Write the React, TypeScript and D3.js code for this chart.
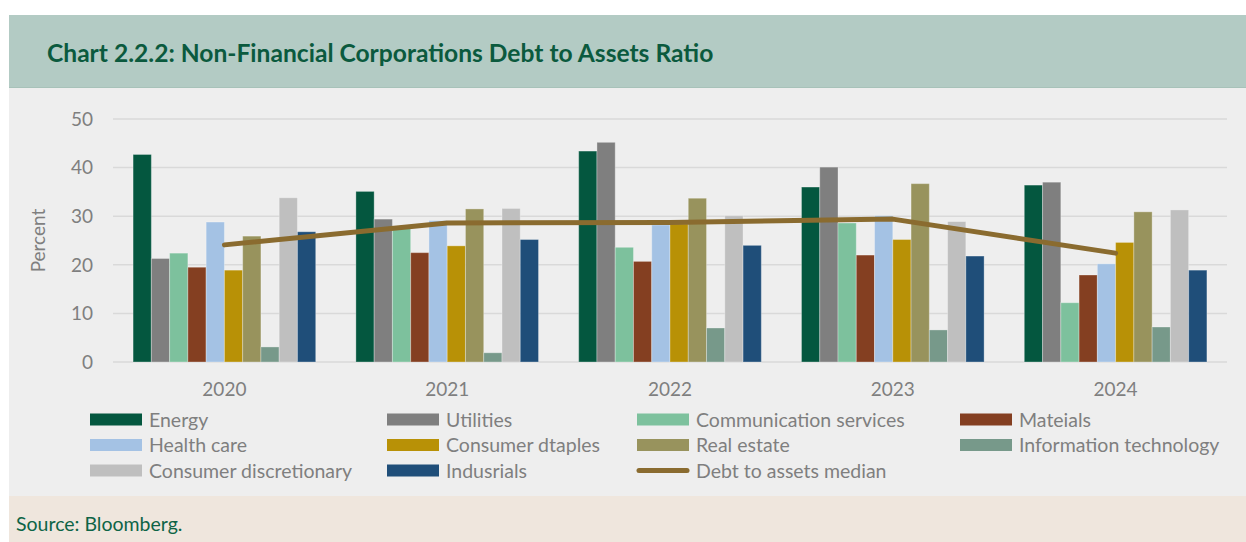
import React, { Component } from 'react';
import * as d3 from "d3";

const years = ["2020", "2021", "2022", "2023", "2024"];

const seriesNames = [
  "Energy", "Utilities", "Communication services", "Mateials", "Health care",
  "Consumer dtaples", "Real estate", "Information technology", "Consumer discretionary", "Indusrials"
];
const seriesColors = [
  "#04573f", "#7f7f7f", "#7dc19d", "#843f21", "#a4c2e4",
  "#b89106", "#98935d", "#77998a", "#bfbfbf", "#1f4e79"
];

// one row per sector, one value per year
const energy = [42.7, 35.1, 43.4, 36.0, 36.4];
const utilities = [21.3, 29.4, 45.2, 40.1, 37.0];
const communication = [22.4, 27.6, 23.6, 28.6, 12.2];
const materials = [19.5, 22.5, 20.7, 22.0, 17.9];
const healthCare = [28.8, 29.1, 28.2, 30.1, 20.2];
const consumerStaples = [18.9, 23.9, 28.4, 25.2, 24.6];
const realEstate = [25.9, 31.5, 33.7, 36.7, 30.9];
const infoTech = [3.1, 1.9, 7.0, 6.6, 7.2];
const consumerDiscretionary = [33.8, 31.6, 30.1, 28.9, 31.3];
const industrials = [26.8, 25.2, 24.0, 21.8, 18.9];

const medianName = "Debt to assets median";
const medianColor = "#8a6b2f";
const median = [24.1, 28.6, 28.7, 29.4, 22.4];

const yTicks = [0, 10, 20, 30, 40, 50];

const allSeries = [
  energy, utilities, communication, materials, healthCare,
  consumerStaples, realEstate, infoTech, consumerDiscretionary, industrials
];

const FONT = "Lato, 'Open Sans', sans-serif";

class Chart extends Component {
  private ref = React.createRef<SVGSVGElement>();

  componentDidMount() {
    this.renderChart();
  }

  renderChart() {
    const node = this.ref.current;
    if (node == null) return;
    const width = 1246, height = 542;
    const svg = d3.select(node);
    svg.selectAll("*").remove();

    // panel backgrounds
    svg.append("rect").attr("x", 0).attr("y", 0).attr("width", width).attr("height", height).attr("fill", "#ffffff");
    svg.append("rect").attr("x", 9).attr("y", 15).attr("width", width - 9).attr("height", 73).attr("fill", "#b3cbc4");
    svg.append("rect").attr("x", 9).attr("y", 87).attr("width", width - 9).attr("height", 1).attr("fill", "#a7c2b9");
    svg.append("rect").attr("x", 9).attr("y", 88).attr("width", width - 9).attr("height", 408).attr("fill", "#eeeeee");
    svg.append("rect").attr("x", 9).attr("y", 496).attr("width", width - 9).attr("height", height - 496).attr("fill", "#efe6dd");

    svg.append("text")
      .attr("x", 47).attr("y", 62)
      .attr("font-family", FONT).attr("font-weight", "bold").attr("font-size", 24.6)
      .attr("fill", "#0b5a3e")
      .text("Chart 2.2.2: Non-Financial Corporations Debt to Assets Ratio");

    svg.append("text")
      .attr("x", 16).attr("y", 531)
      .attr("font-family", FONT).attr("font-size", 19.5)
      .attr("fill", "#0d6446")
      .text("Source: Bloomberg.");

    // scales
    const x0 = d3.scaleBand<string>().domain(years).range([113, 1227]);
    const x1 = d3.scaleBand<number>().domain(d3.range(seriesNames.length))
      .range([0, x0.bandwidth()]).paddingOuter(1.1);
    const y = d3.scaleLinear().domain([0, 50]).range([362, 119]);

    // gridlines + y labels
    const grid = svg.append("g");
    grid.selectAll("line").data(yTicks).enter().append("line")
      .attr("x1", 113).attr("x2", 1227)
      .attr("y1", d => y(d)).attr("y2", d => y(d))
      .attr("stroke", "#d9d9d9").attr("stroke-width", 1.5);
    grid.selectAll("text").data(yTicks).enter().append("text")
      .attr("x", 93).attr("y", d => y(d))
      .attr("dy", "0.36em")
      .attr("text-anchor", "end")
      .attr("font-family", FONT).attr("font-size", 19)
      .attr("fill", "#7f7f7f")
      .text(d => d);

    svg.append("text")
      .attr("transform", "translate(38," + y(25) + ") rotate(-90)")
      .attr("text-anchor", "middle").attr("dy", "0.36em")
      .attr("font-family", FONT).attr("font-size", 19)
      .attr("fill", "#7f7f7f")
      .text("Percent");

    // x labels
    svg.append("g").selectAll("text").data(years).enter().append("text")
      .attr("x", d => (x0(d) as number) + x0.bandwidth() / 2)
      .attr("y", 396)
      .attr("text-anchor", "middle")
      .attr("font-family", FONT).attr("font-size", 19)
      .attr("fill", "#7f7f7f")
      .text(d => d);

    // bars
    const groups = svg.append("g").selectAll("g").data(years).enter().append("g")
      .attr("transform", d => "translate(" + x0(d) + ",0)");
    groups.selectAll("rect")
      .data((_, yi) => allSeries.map((s, si) => ({ si, v: s[yi] })))
      .enter().append("rect")
      .attr("x", d => x1(d.si) as number)
      .attr("width", x1.bandwidth())
      .attr("y", d => y(d.v))
      .attr("height", d => y(0) - y(d.v))
      .attr("fill", d => seriesColors[d.si])
      .attr("stroke", "rgba(255,255,255,0.3)")
      .attr("stroke-width", 1);

    // median line
    const line = d3.line<number>()
      .x((_, i) => (x0(years[i]) as number) + x0.bandwidth() / 2)
      .y(d => y(d));
    svg.append("path")
      .datum(median)
      .attr("d", line)
      .attr("fill", "none")
      .attr("stroke", medianColor)
      .attr("stroke-width", 5)
      .attr("stroke-linecap", "round")
      .attr("stroke-linejoin", "round");

    // legend
    const colX = [90, 387, 637, 960];
    const rowY = [419.5, 445, 470.5];
    const items = seriesNames.map((n, i) => ({ name: n, color: seriesColors[i], line: false }))
      .concat([{ name: medianName, color: medianColor, line: true }]);
    const legend = svg.append("g");
    items.forEach((it, i) => {
      const cx = colX[i % 4], cy = rowY[Math.floor(i / 4)];
      if (it.line) {
        legend.append("line")
          .attr("x1", cx + 2).attr("x2", cx + 50)
          .attr("y1", cy).attr("y2", cy)
          .attr("stroke", it.color).attr("stroke-width", 5).attr("stroke-linecap", "round");
      } else {
        legend.append("rect")
          .attr("x", cx).attr("y", cy - 6).attr("width", 52).attr("height", 12)
          .attr("fill", it.color);
      }
      legend.append("text")
        .attr("x", cx + 59).attr("y", cy).attr("dy", "0.36em")
        .attr("font-family", FONT).attr("font-size", 19.5)
        .attr("fill", "#7f7f7f")
        .text(it.name);
    });
  }

  render() {
    return (<svg ref={this.ref} width={1246} height={542}
      style={{ position: "absolute", left: 0, top: 0, display: "block" }} />);
  }
}

export default function App() {
  return <Chart />;
}
